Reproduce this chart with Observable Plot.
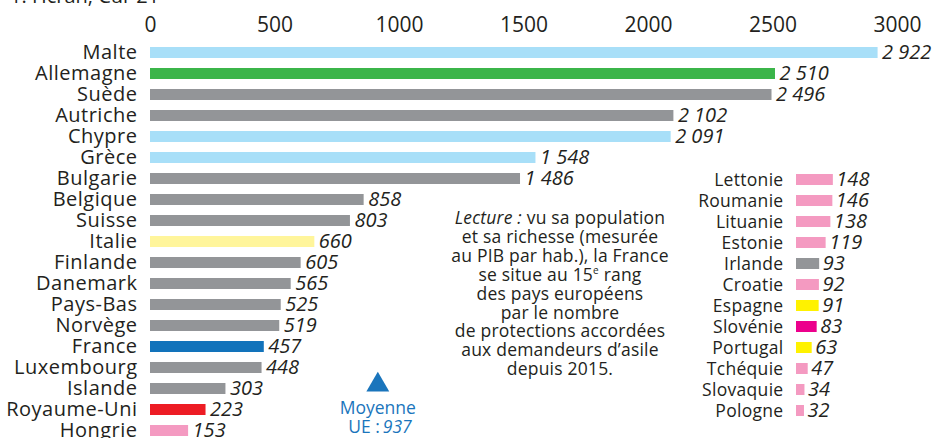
<!DOCTYPE html>
<html><head><meta charset="utf-8">
<script src="https://cdn.jsdelivr.net/npm/d3@7"></script>
<script src="https://cdn.jsdelivr.net/npm/@observablehq/plot@0.6"></script>
<style>
body{margin:0;overflow:hidden;background:#fff}
#wrap{position:relative;width:939px;height:438px;overflow:hidden;font-family:"Open Sans",sans-serif;color:#231f20}
#wrap svg{position:absolute;left:0;top:0;overflow:visible}
#note{position:absolute;left:10px;top:-18px;font-size:20px;white-space:nowrap}
#lecture{position:absolute;left:430px;width:260px;top:208px;text-align:center;font-size:17.5px;line-height:18.9px;letter-spacing:0.2px}
#lecture sup{font-size:10px;vertical-align:top;line-height:10px}
.main-y text{letter-spacing:0.5px}
.inset-y text{letter-spacing:0.3px}
</style></head>
<body><div id="wrap"><div id="note">1. Hcran, Cur 21</div>
<div id="lecture"><i>Lecture :</i> vu sa population<br>et sa richesse (mesurée<br>au PIB par hab.), la France<br>se situe au 15<sup>e</sup> rang<br>des pays européens<br>par le nombre<br>de protections accordées<br>aux demandeurs d’asile<br>depuis 2015.</div>
</div>
<script>
// Main list
const mainCountries = ["Malte","Allemagne","Suède","Autriche","Chypre","Grèce","Bulgarie","Belgique","Suisse","Italie","Finlande","Danemark","Pays-Bas","Norvège","France","Luxembourg","Islande","Royaume-Uni","Hongrie"];
const mainValues = [2922,2510,2496,2102,2091,1548,1486,858,803,660,605,565,525,519,457,448,303,223,153];
const mainGroups = ["arrivée","Allemagne","autre","autre","arrivée","arrivée","autre","autre","autre","Italie","autre","autre","autre","autre","France","autre","autre","Royaume-Uni","est"];
// Inset list
const insetCountries = ["Lettonie","Roumanie","Lituanie","Estonie","Irlande","Croatie","Espagne","Slovénie","Portugal","Tchéquie","Slovaquie","Pologne"];
const insetValues = [148,146,138,119,93,92,91,83,63,47,34,32];
const insetGroups = ["est","est","est","est","autre","est","ibérique","Slovénie","ibérique","est","est","est"];
const xTicks = [0,500,1000,1500,2000,2500,3000];
const euAverage = 937;

const groupDomain = ["arrivée","Allemagne","autre","Italie","France","Royaume-Uni","est","ibérique","Slovénie"];
const groupColors = ["#a8dff8","#3bb54a","#939598","#fff59b","#1273bb","#ed1c24","#f49ac1","#fff200","#ec008c"];

const fmt = v => v >= 1000 ? Math.floor(v/1000) + " " + String(v % 1000).padStart(3,"0") : String(v);
const mainData = mainCountries.map((c,i)=>({country:c, value:mainValues[i], group:mainGroups[i]}));
const insetData = insetCountries.map((c,i)=>({country:c, value:insetValues[i], group:insetGroups[i]}));

const W = 939, H = 443, top0 = 40;
const step = (H - top0) / mainCountries.length;
const k = 0.249; // px per unit
const x0 = 150;

const main = Plot.plot({
  width: W, height: H, marginLeft: x0, marginRight: W - x0 - 3000*k, marginTop: top0, marginBottom: 0,
  style: {fontFamily: "Open Sans", fontSize: "20px", color: "#231f20", background: "transparent"},
  x: {domain: [0,3000], axis: null},
  y: {domain: mainCountries, paddingInner: 0.5, paddingOuter: 0.25, axis: null},
  color: {domain: groupDomain, range: groupColors},
  marks: [
    Plot.axisX({anchor: "top", ticks: xTicks, tickSize: 0, tickPadding: 9, label: null, tickFormat: d => String(d), fontSize: 21}),
    Plot.axisY({anchor: "left", tickSize: 0, tickPadding: 13, label: null, className: "main-y"}),
    Plot.barX(mainData, {x: "value", y: "country", fill: "group"}),
    Plot.text(mainData, {x: "value", y: "country", text: d => fmt(d.value), textAnchor: "start", dx: 4, fontStyle: "italic", fill: "#231f20"}),
    Plot.dot([euAverage], {x: d => d, y: () => "Islande", dy: -4, dx: -6, symbol: "triangle", r: 8.5, fill: "#1a75bc"}),
    Plot.text([euAverage], {x: d => d, y: () => "Royaume-Uni", dy: -2, dx: -6, text: () => "Moyenne", fill: "#1a75bc", fontSize: 17.5}),
    Plot.text([euAverage], {x: d => d, y: () => "Hongrie", dy: -4, dx: -4, text: () => "UE :", textAnchor: "end", fill: "#1a75bc", fontSize: 17.5}),
    Plot.text([euAverage], {x: d => d, y: () => "Hongrie", dy: -4, dx: -1, text: d => String(d), textAnchor: "start", fontStyle: "italic", fill: "#1a75bc", fontSize: 17.5})
  ]
});

const ix0 = 796;
const inset = Plot.plot({
  width: W, height: H, marginLeft: ix0, marginRight: 0, marginTop: 0, marginBottom: 0,
  style: {fontFamily: "Open Sans", fontSize: "17.5px", color: "#231f20", background: "transparent"},
  x: {domain: [0,3000], range: [ix0, ix0 + 3000*k], axis: null},
  y: {domain: insetCountries, range: [top0 + 6*step, top0 + 18*step], paddingInner: 0.5, paddingOuter: 0.25, label: null, axis: null},
  color: {domain: groupDomain, range: groupColors},
  marks: [
    Plot.axisY({anchor: "left", tickSize: 0, tickPadding: 13, label: null, className: "inset-y"}),
    Plot.barX(insetData, {x: "value", y: "country", fill: "group"}),
    Plot.text(insetData, {x: "value", y: "country", text: d => fmt(d.value), textAnchor: "start", dx: 3, fontStyle: "italic", fill: "#231f20", fontSize: 20})
  ]
});

const wrap = document.getElementById("wrap");
wrap.appendChild(main);
wrap.appendChild(inset);
</script></body></html>
